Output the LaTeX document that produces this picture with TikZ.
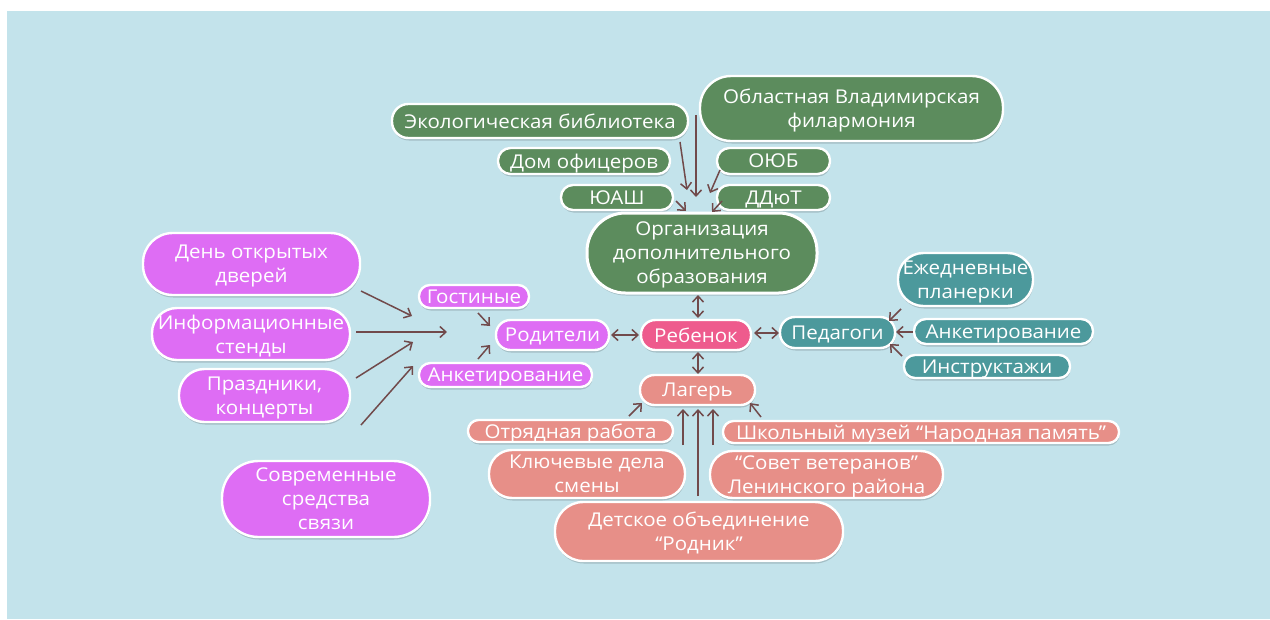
\documentclass[tikz,border=0pt]{standalone}
\usepackage{fontspec}
\newfontfamily\nodefont{Open Sans}[FakeStretch=1.08]
\usetikzlibrary{arrows.meta,shadows}
\definecolor{bgc}{HTML}{C3E3EB}
\definecolor{cgreen}{HTML}{5C8C5D}
\definecolor{cpurple}{HTML}{DE6DF4}
\definecolor{cpink}{HTML}{EE5B8D}
\definecolor{cteal}{HTML}{4C999C}
\definecolor{csalmon}{HTML}{E78F88}
\definecolor{carrow}{HTML}{714A4B}
\tikzset{
  box/.style={draw=white, line width=2.4pt, text=white, align=center, inner sep=0pt,
    text depth=0pt,
    font={\nodefont\fontsize{19}{24}\selectfont},
    drop shadow={opacity=0.16, shadow xshift=0.5pt, shadow yshift=-2.5pt, fill=black}},
  sz/.style 2 args={minimum width=#1pt, minimum height=#2pt, rounded corners=#2*0.48pt},
  gbox/.style={box, fill=cgreen},
  pbox/.style={box, fill=cpurple},
  kbox/.style={box, fill=cpink},
  tbox/.style={box, fill=cteal},
  sbox/.style={box, fill=csalmon},
  tip/.style={Straight Barb[length=6pt,width=11pt,line width=1.5pt]},
  arr/.style={draw=carrow, line width=1.5pt, -{Straight Barb[length=6pt,width=11pt]}},
  darr/.style={draw=carrow, line width=1.5pt, {Straight Barb[length=6pt,width=11pt]}-{Straight Barb[length=6pt,width=11pt]}}
}
\begin{document}
\begin{tikzpicture}[x=1pt,y=-1pt]
\fill[white] (0,0) rectangle (1270,619);
\useasboundingbox (0,0) rectangle (1270,619);
\fill[bgc] (7,11) rectangle (1270,619);

% green
\node[gbox, sz={296}{34}] (eco) at (540,121) {Экологическая библиотека};
\node[gbox, sz={303}{65}] (fil) at (851.5,108.5) {Областная Владимирская\\филармония};
\node[gbox, sz={172}{26}] (dom) at (584,161) {Дом офицеров};
\node[gbox, sz={113}{26}] (oyub) at (773.5,161) {ОЮБ};
\node[gbox, sz={112}{25}] (yuash) at (617,197.5) {ЮАШ};
\node[gbox, sz={113}{25}] (ddyut) at (773.5,197.5) {ДДюТ};
\node[gbox, sz={230}{80}, line width=3pt] (org) at (702,253) {Организация\\дополнительного\\образования};

% purple
\node[pbox, sz={217}{62}] (den) at (251.5,264) {День открытых\\дверей};
\node[pbox, sz={198}{52}] (inf) at (251,334) {Информационные\\стенды};
\node[pbox, sz={171}{53}] (pr) at (264.5,395.5) {Праздники,\\концерты};
\node[pbox, sz={208}{76}] (sovr) at (326,499) {Современные\\средства\\связи};
\node[pbox, sz={110}{23}] (gost) at (474,296.5) {Гостиные};
\node[pbox, sz={113}{30}] (rod) at (552.5,335) {Родители};
\node[pbox, sz={173}{24}] (ank) at (505.5,375) {Анкетирование};

% center
\node[kbox, sz={110}{30}] (reb) at (696,335) {Ребенок};

% teal
\node[tbox, sz={115}{31}] (ped) at (837.5,332.5) {Педагоги};
\node[tbox, sz={135}{53}] (ezh) at (965.5,279.5) {Ежедневные\\планерки};
\node[tbox, sz={179}{25}] (ankt) at (1003.5,331.5) {Анкетирование};
\node[tbox, sz={166}{23}] (instr) at (987,366.5) {Инструктажи};

% salmon
\node[sbox, sz={115}{30}] (lag) at (697.5,390) {Лагерь};
\node[sbox, sz={205}{22}] (otr) at (570.5,431) {Отрядная работа};
\node[sbox, sz={396}{22}] (shk) at (921,432) {Школьный музей “Народная память”};
\node[sbox, sz={196}{48}] (kl) at (587,474) {Ключевые дела\\смены};
\node[sbox, sz={233}{47}] (sovet) at (826.5,474.5) {“Совет ветеранов”\\Ленинского района};
\node[sbox, sz={288}{59}] (det) at (699,531.5) {Детское объединение\\“Родник”};

% connector end points
\coordinate (e1a) at (680,142); \coordinate (e1b) at (687,190);
\coordinate (e2a) at (696,115); \coordinate (e2b) at (696,197);
\coordinate (e3a) at (720,170); \coordinate (e3b) at (710,193);
\coordinate (e4a) at (676,201); \coordinate (e4b) at (686,211);
\coordinate (e5a) at (722,201); \coordinate (e5b) at (712,212);

\coordinate (d1a) at (698,295); \coordinate (d1b) at (698,318);
\coordinate (d2a) at (698,352); \coordinate (d2b) at (698,374);
\coordinate (d3a) at (611,335); \coordinate (d3b) at (639,335);
\coordinate (d4a) at (754,333); \coordinate (d4b) at (779,333);

\coordinate (l1a) at (361,291); \coordinate (l1b) at (412,316);
\coordinate (l2a) at (356,332); \coordinate (l2b) at (447,332);
\coordinate (l3a) at (356,378); \coordinate (l3b) at (413,342);
\coordinate (l4a) at (361,425); \coordinate (l4b) at (413,366);
\coordinate (l5a) at (478,313); \coordinate (l5b) at (490,326);
\coordinate (l6a) at (478,359); \coordinate (l6b) at (490,345);

\coordinate (r1a) at (901,309); \coordinate (r1b) at (889,321);
\coordinate (r2a) at (913,332); \coordinate (r2b) at (896,332);
\coordinate (r3a) at (902,356); \coordinate (r3b) at (890,344);

\coordinate (b1a) at (629,416); \coordinate (b1b) at (642,403);
\coordinate (b2a) at (683,445); \coordinate (b2b) at (683,409);
\coordinate (b3a) at (698,496); \coordinate (b3b) at (698,409);
\coordinate (b4a) at (713,445); \coordinate (b4b) at (713,409);
\coordinate (b5a) at (761,417); \coordinate (b5b) at (750,403);

\foreach \p in {e1,e2,e3,e4,e5,l1,l2,l3,l4,l5,l6,r1,r2,r3,b1,b2,b3,b4,b5}
  \draw[arr] (\p a) -- (\p b);
\foreach \p in {d1,d2,d3,d4}
  \draw[darr] (\p a) -- (\p b);
\end{tikzpicture}
\end{document}
